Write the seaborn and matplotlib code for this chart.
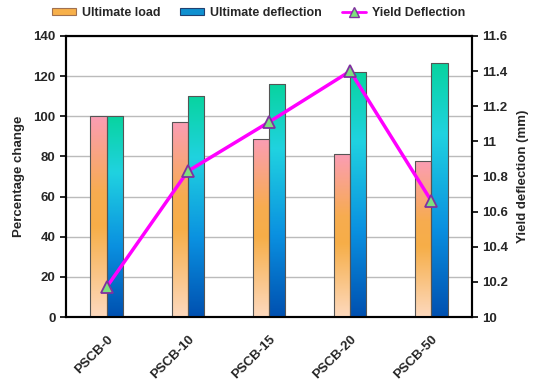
import numpy as np
import pandas as pd
import matplotlib
matplotlib.use("Agg")
import matplotlib.pyplot as plt
import seaborn as sns
from matplotlib.colors import LinearSegmentedColormap
from matplotlib.patches import Patch
from matplotlib.lines import Line2D

categories = ["PSCB-0", "PSCB-10", "PSCB-15", "PSCB-20", "PSCB-50"]
ultimate_load = [100, 97, 88.5, 81, 77.5]
ultimate_deflection = [100, 110, 116, 122, 126.5]
yield_deflection = [10.17, 10.83, 11.11, 11.40, 10.66]
series_names = ["Ultimate load", "Ultimate deflection"]

sns.set_theme(style="white")
plt.rcParams["font.family"] = ["Liberation Sans", "DejaVu Sans"]
plt.rcParams["font.weight"] = "bold"

df = pd.DataFrame({
    "cat": categories * 2,
    "series": [series_names[0]] * 5 + [series_names[1]] * 5,
    "value": ultimate_load + ultimate_deflection,
})

fig = plt.figure(figsize=(5.5, 3.88), dpi=100)
ax = fig.add_axes([66/550, 1 - 317/388, (472-66)/550, (317-36)/388])

sns.barplot(data=df, x="cat", y="value", hue="series", width=0.4,
            palette=["#F7B04A", "#1090D0"], ax=ax, legend=False,
            edgecolor="#555555", linewidth=0.8, zorder=3)

cmap_orange = LinearSegmentedColormap.from_list(
    "o", [(0, "#FDD9BE"), (0.45, "#F6AE48"), (0.62, "#F7AC50"), (1, "#FB9DB4")])
cmap_blue = LinearSegmentedColormap.from_list(
    "b", [(0, "#0050B0"), (0.35, "#0A90E0"), (0.72, "#20D2E0"), (1, "#08D4A0")])

ax.set_ylim(0, 140)
bars = [p for p in ax.patches]
grad = np.linspace(0, 1, 256).reshape(-1, 1)
for i, p in enumerate(bars):
    x0, y0 = p.get_x(), p.get_y()
    w, h = p.get_width(), p.get_height()
    cm = cmap_orange if i < 5 else cmap_blue
    im = ax.imshow(grad, cmap=cm, origin="lower", aspect="auto",
                   extent=[x0, x0 + w, y0, y0 + h], zorder=3.5)
    im.set_clip_path(p)
    p.set_facecolor("none")
    p.set_zorder(4)

ax.set_xlim(-0.5, 4.5)
ax.set_ylim(0, 140)
ax.set_yticks(np.arange(0, 141, 20))
ax.yaxis.grid(True, color="#BBBBBB", linewidth=1.0, zorder=0)
ax.set_axisbelow(True)

ax.set_xticks(np.arange(5))
ax.set_xticklabels(categories, rotation=45, ha="right", rotation_mode="anchor",
                   fontsize=9.5, fontweight="bold")
ax.set_xticks(np.arange(-0.5, 5, 1), minor=True)
ax.tick_params(axis="x", which="major", length=0, pad=12)
ax.tick_params(axis="x", which="minor", length=4, width=1.2, direction="out", color="black")
ax.tick_params(axis="y", length=4, width=1.2, direction="out", color="black",
               labelsize=9.5, left=True)
for lab in ax.get_yticklabels():
    lab.set_fontweight("bold")
ax.set_xlabel("")
ax.set_ylabel("Percentage change", fontsize=9.5, fontweight="bold", labelpad=6)
for s in ax.spines.values():
    s.set_color("black")
    s.set_linewidth(1.5)

ax2 = ax.twinx()
sns.lineplot(x=np.arange(5), y=yield_deflection, ax=ax2, color="#FF00FF",
             linewidth=2.5, marker="^", markersize=8, markerfacecolor="#7EE07E",
             markeredgecolor="#8030A0", markeredgewidth=1.3, zorder=10)
ax2.set_ylim(10, 11.6)
ax2.set_yticks([10, 10.2, 10.4, 10.6, 10.8, 11, 11.2, 11.4, 11.6])
ax2.set_yticklabels(["10", "10.2", "10.4", "10.6", "10.8", "11", "11.2", "11.4", "11.6"])
ax2.tick_params(axis="y", length=4, width=1.2, direction="out", color="black",
                labelsize=9.5, right=True)
for lab in ax2.get_yticklabels():
    lab.set_fontweight("bold")
ax2.set_ylabel("Yield deflection (mm)", fontsize=9.5, fontweight="bold", labelpad=6)
ax2.grid(False)
for s in ax2.spines.values():
    s.set_color("black")
    s.set_linewidth(1.5)

handles = [
    Patch(facecolor="#F7B04A", edgecolor="#A07050", linewidth=0.8),
    Patch(facecolor="#1090D0", edgecolor="#204070", linewidth=0.8),
    Line2D([0], [0], color="#FF00FF", linewidth=2, marker="^", markersize=7,
           markerfacecolor="#7EE07E", markeredgecolor="#8030A0"),
]
fig.legend(handles, ["Ultimate load", "Ultimate deflection", "Yield Deflection"],
           loc="center", bbox_to_anchor=(0.47, 1 - 13/388), ncol=3, frameon=False,
           prop={"size": 9, "weight": "bold"}, handlelength=1.9,
           handleheight=0.55, columnspacing=1.6, handletextpad=0.5)

fig.savefig("out.png", dpi=100)
